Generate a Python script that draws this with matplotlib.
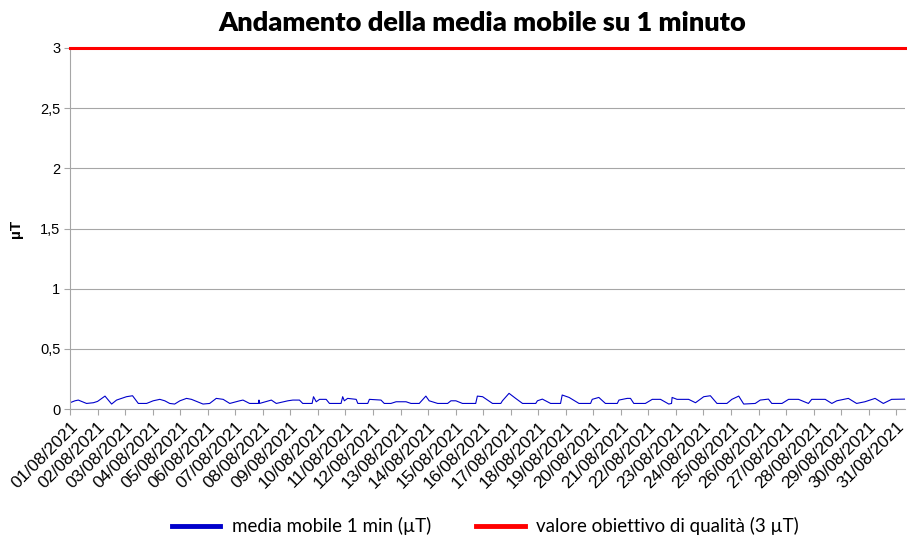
import matplotlib
matplotlib.use("Agg")
import matplotlib.pyplot as plt
from matplotlib.lines import Line2D
from matplotlib.ticker import FuncFormatter

# tempo in giorni dall'inizio del mese (01/08/2021 00:00) e media mobile (uT)
giorni = [0.00, 0.18, 0.30, 0.60, 0.85, 1.00, 1.27, 1.51, 1.69, 2.05,
          2.27, 2.48, 2.78, 3.02, 3.26, 3.44, 3.62, 3.80, 3.99, 4.23,
          4.41, 4.83, 5.07, 5.31, 5.56, 5.80, 6.16, 6.28, 6.52, 6.84,
          6.86, 6.88, 7.31, 7.49, 7.91, 8.09, 8.33, 8.45, 8.79, 8.84,
          8.94, 9.06, 9.30, 9.42, 9.84, 9.90, 9.96, 10.08, 10.39, 10.45,
          10.81, 10.87, 11.29, 11.41, 11.65, 11.84, 12.20, 12.38, 12.68, 12.92,
          13.04, 13.35, 13.71, 13.83, 14.01, 14.25, 14.73, 14.79, 14.98, 15.16,
          15.34, 15.64, 15.70, 15.94, 16.18, 16.43, 16.91, 16.97, 17.15, 17.45,
          17.81, 17.87, 18.12, 18.48, 18.90, 18.96, 19.20, 19.44, 19.87, 19.93,
          20.23, 20.35, 20.47, 20.89, 21.14, 21.44, 21.74, 21.84, 21.86, 22.04,
          22.46, 22.71, 23.01, 23.25, 23.49, 23.85, 24.03, 24.28, 24.46, 24.88,
          25.06, 25.36, 25.48, 25.85, 26.09, 26.45, 26.81, 26.93, 27.42, 27.66,
          27.84, 28.26, 28.56, 28.86, 29.23, 29.53, 29.83, 30.19, 30.33]
media_mobile = [0.053, 0.069, 0.075, 0.047, 0.053, 0.064, 0.108, 0.042, 0.075, 0.103,
                0.111, 0.047, 0.047, 0.069, 0.081, 0.069, 0.047, 0.042, 0.069, 0.089,
                0.081, 0.042, 0.047, 0.089, 0.081, 0.047, 0.069, 0.075, 0.047, 0.047,
                0.075, 0.047, 0.075, 0.047, 0.069, 0.075, 0.075, 0.047, 0.047, 0.103,
                0.061, 0.081, 0.081, 0.047, 0.047, 0.103, 0.069, 0.089, 0.081, 0.047,
                0.047, 0.081, 0.075, 0.047, 0.047, 0.061, 0.061, 0.047, 0.047, 0.108,
                0.069, 0.047, 0.047, 0.069, 0.069, 0.047, 0.047, 0.108, 0.103, 0.075,
                0.047, 0.047, 0.069, 0.131, 0.089, 0.047, 0.047, 0.069, 0.083, 0.047,
                0.047, 0.117, 0.097, 0.047, 0.047, 0.081, 0.097, 0.047, 0.047, 0.075,
                0.089, 0.089, 0.047, 0.047, 0.081, 0.081, 0.042, 0.047, 0.097, 0.081,
                0.081, 0.053, 0.103, 0.111, 0.047, 0.047, 0.081, 0.108, 0.042, 0.047,
                0.075, 0.083, 0.047, 0.047, 0.081, 0.081, 0.047, 0.081, 0.081, 0.047,
                0.069, 0.089, 0.047, 0.061, 0.089, 0.047, 0.081, 0.083, 0.083]
valore_obiettivo = 3.0
etichette_x = [f"{g:02d}/08/2021" for g in range(1, 32)]

fig = plt.figure(figsize=(9.07, 5.39), dpi=100)
ax = fig.add_axes([0.0772, 0.241, 0.921, 0.670])

ax.plot(giorni, media_mobile, color="#0000CC", lw=0.8)
ax.axhline(valore_obiettivo, color="#FF0000", lw=2.2, clip_on=False, zorder=5)

ax.set_xlim(0, 30.33)
ax.set_ylim(0, 3)
ax.set_yticks([0, 0.5, 1, 1.5, 2, 2.5, 3])
ax.yaxis.set_major_formatter(FuncFormatter(lambda v, p: f"{v:g}".replace(".", ",")))
ax.set_xticks(range(31))
ax.set_xticklabels(etichette_x, rotation=45, ha="right", va="top",
                   rotation_mode="anchor", family="Liberation Sans", fontsize=12.5)
for lab in ax.get_yticklabels():
    lab.set_family("Liberation Sans")
    lab.set_fontsize(10.5)

ax.grid(axis="y", color="#A6A6A6", lw=0.8)
ax.set_axisbelow(True)
for s in ["top", "right"]:
    ax.spines[s].set_visible(False)
for s in ["left", "bottom"]:
    ax.spines[s].set_color("#A6A6A6")
ax.tick_params(axis="both", direction="out", color="#A6A6A6", length=4, pad=3)

ax.set_ylabel("µT", family="Liberation Sans", fontweight="bold", fontsize=11, labelpad=12)

fig.text(0.532, 0.958, "Andamento della media mobile su 1 minuto",
         ha="center", va="center", family="Lato", fontweight="heavy", fontsize=19.5)

handles = [Line2D([], [], color="#0000CC", lw=3.5),
           Line2D([], [], color="#FF0000", lw=3.5)]
fig.legend(handles, ["media mobile 1 min (µT)", "valore obiettivo di qualità (3 µT)"],
           loc="center", bbox_to_anchor=(0.535, 0.024), ncol=2, frameon=False,
           prop={"family": "Lato", "size": 13.5}, handlelength=2.6, columnspacing=2.4,
           handletextpad=0.6, borderpad=0.1)

fig.savefig("out.png", dpi=100)
